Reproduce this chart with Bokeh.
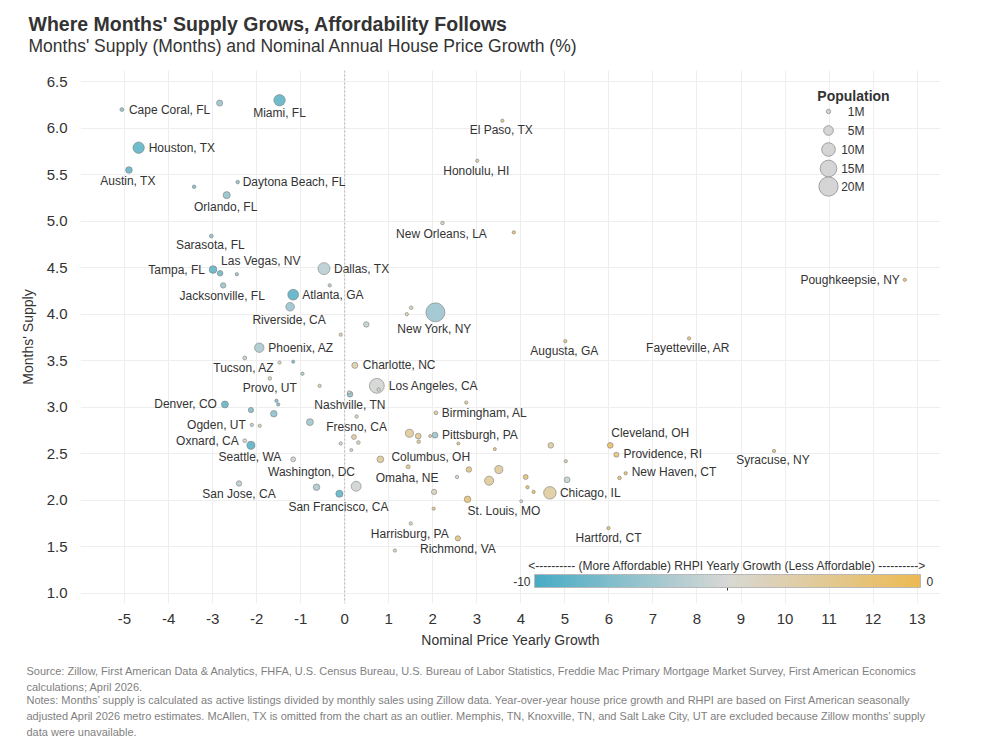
import numpy as np
from bokeh.plotting import figure
from bokeh.models import (ColumnDataSource, Range1d, FixedTicker, PrintfTickFormatter,
                          LinearColorMapper, ColorBar, Span, Title)
from bokeh.transform import transform
from bokeh.core.properties import value, field
from bokeh.embed import file_html
from bokeh.resources import INLINE

FONT = "Liberation Sans"
INK = "#333333"

# ---------------------------------------------------------------- data
metro = [
    "Cape Coral, FL", "", "Miami, FL", "Houston, TX", "Austin, TX", "", "Daytona Beach, FL",
    "Orlando, FL", "Sarasota, FL", "Tampa, FL", "Las Vegas, NV", "", "Dallas, TX",
    "Jacksonville, FL", "Atlanta, GA", "", "Riverside, CA", "", "Phoenix, AZ", "Tucson, AZ",
    "", "", "", "Provo, UT", "", "", "", "", "Nashville, TN", "Denver, CO", "", "", "",
    "Ogden, UT", "", "Oxnard, CA", "Seattle, WA", "", "San Jose, CA", "Washington, DC",
    "San Francisco, CA", "", "Fresno, CA", "", "", "", "", "Columbus, OH", "", "", "",
    "New York, NY", "", "Charlotte, NC", "Los Angeles, CA", "", "Augusta, GA", "",
    "Birmingham, AL", "Pittsburgh, PA", "", "", "", "", "", "", "", "", "Cleveland, OH",
    "Providence, RI", "New Haven, CT", "", "Omaha, NE", "", "", "", "", "", "", "St. Louis, MO",
    "", "", "", "", "", "Chicago, IL", "Hartford, CT", "Harrisburg, PA", "Richmond, VA",
    "Syracuse, NY", "El Paso, TX", "Honolulu, HI", "New Orleans, LA", "", "Poughkeepsie, NY",
    "Fayetteville, AR",
]
price_growth = [
    -5.06, -2.84, -1.48, -4.68, -4.90, -3.42, -2.43,
    -2.68, -3.03, -2.99, -2.83, -2.45, -0.47,
    -2.76, -1.17, -0.34, -1.24, -0.09, -1.94, -2.27,
    -1.48, -1.17, -0.96, -1.70, -0.57, -1.55, -1.51, 0.10, 0.12, -2.72, -2.13, -1.61, -0.79,
    -2.11, -1.93, -2.27, -2.13, -1.17, -2.40, -0.64,
    -0.12, 0.26, 0.27, 0.21, 0.31, -0.09, 0.15, 0.81, 1.14, 1.51, 1.41,
    2.06, 0.49, 0.23, 0.73, 0.77, 5.01, 2.76,
    2.07, 2.05, 1.94, 1.47, 1.67, 1.68, 2.58, 3.41, 4.68, 5.02, 6.03,
    6.17, 6.38, 6.24, 1.44, 2.82, 3.50, 3.28, 2.55, 2.03, 2.02, 2.79,
    4.11, 4.15, 4.29, 4.01, 5.05, 4.66, 5.99, 1.50, 2.57,
    9.75, 3.58, 3.01, 2.22, 3.84, 12.72,
    7.82,
]
months_supply = [
    6.20, 6.27, 6.30, 5.79, 5.55, 5.37, 5.42,
    5.28, 4.84, 4.48, 4.44, 4.43, 4.49,
    4.31, 4.21, 4.31, 4.08, 3.78, 3.64, 3.53,
    3.48, 3.49, 3.36, 3.31, 3.23, 3.07, 3.03, 3.16, 3.14, 3.03, 2.97, 2.93, 2.84,
    2.81, 2.80, 2.64, 2.59, 2.44, 2.18, 2.14,
    2.07, 2.15, 2.90, 2.68, 2.62, 2.61, 2.54, 2.44, 1.46, 4.07, 4.00,
    4.02, 3.89, 3.45, 3.23, 3.19, 3.71, 3.05,
    2.94, 2.70, 2.69, 2.72, 2.69, 2.63, 2.61, 2.55, 2.59, 2.42, 2.59,
    2.49, 2.29, 2.24, 2.36, 2.33, 2.33, 2.21, 2.25, 2.09, 1.91, 2.01,
    2.25, 2.14, 2.09, 1.99, 2.22, 2.08, 1.70, 1.75, 1.59,
    2.53, 6.08, 5.65, 4.98, 4.88, 4.37,
    3.74,
]
population_m = [
    0.8, 2.0, 7.0, 7.0, 2.4, 0.7, 0.7,
    2.7, 0.8, 3.2, 1.7, 0.6, 7.8,
    1.6, 6.3, 0.6, 4.0, 0.6, 4.8, 0.8,
    0.6, 0.5, 0.6, 0.7, 0.6, 0.6, 0.6, 0.6, 1.8, 2.6, 1.5, 2.3, 2.6,
    0.6, 0.6, 0.8, 3.5, 1.3, 1.6, 2.3,
    2.8, 5.3, 0.6, 1.3, 0.7, 0.6, 0.5, 2.4, 0.6, 0.7, 0.6,
    19.5, 1.6, 2.0, 12.0, 0.6, 0.6, 0.6,
    0.8, 1.9, 0.5, 3.5, 1.8, 0.7, 0.5, 0.5, 1.7, 0.6, 1.8,
    1.4, 0.6, 0.7, 0.9, 1.6, 3.5, 4.5, 0.6, 1.5, 0.6, 2.3,
    1.3, 0.6, 0.6, 0.5, 1.8, 8.5, 0.6, 0.6, 1.5,
    0.6, 0.6, 0.6, 0.7, 0.6, 0.6,
    0.6,
]
rhpi_growth = [
    -7.5, -7.0, -9.0, -9.0, -8.8, -8.0, -7.5,
    -7.3, -7.5, -9.0, -8.5, -7.0, -6.0,
    -7.0, -9.2, -6.5, -7.0, -3.5, -6.5, -5.8,
    -4.0, -8.5, -6.5, -4.0, -3.0, -8.0, -8.0, -4.5, -7.5, -8.8, -8.0, -7.5, -6.8,
    -6.0, -4.0, -4.5, -9.2, -5.3, -6.0, -6.5,
    -9.0, -5.3, -4.0, -3.0, -4.0, -4.5, -4.2, -2.8, -4.0, -4.0, -3.5,
    -7.0, -5.6, -3.5, -5.2, -4.0, -1.5, -2.5,
    -2.5, -7.0, -2.8, -2.8, -2.6, -2.6, -1.5, -1.5, -3.0, -3.2, -0.8,
    -1.6, -1.2, -1.0, -1.8, -2.0, -2.8, -2.8, -4.5, -4.2, -2.0, -1.6,
    -1.5, -1.0, -1.0, -4.5, -5.6, -3.0, -1.0, -4.0, -2.0,
    -1.5, -2.0, -3.2, -4.0, -1.0, -1.0,
    -1.0,
]

x_ticks = list(range(-5, 14))
y_ticks = [1.0, 1.5, 2.0, 2.5, 3.0, 3.5, 4.0, 4.5, 5.0, 5.5, 6.0, 6.5]
legend_pops = [1, 5, 10, 15, 20]
legend_labels = ["1M", "5M", "10M", "15M", "20M"]
rhpi_low, rhpi_high = -10, 0

# where each metro name sits relative to its bubble: (align, dx px, dy px)
label_place = {
    "Cape Coral, FL": ("left", 7, 0), "Miami, FL": ("center", 0, 13),
    "Houston, TX": ("left", 10, 0), "Austin, TX": ("center", -1, 11),
    "Daytona Beach, FL": ("left", 5, 0), "Orlando, FL": ("center", -1, 12),
    "Sarasota, FL": ("center", -1, 9), "Tampa, FL": ("right", -8, 0),
    "Las Vegas, NV": ("left", 1, -12), "Dallas, TX": ("left", 10, 0),
    "Jacksonville, FL": ("center", -1, 11), "Atlanta, GA": ("left", 9, 0),
    "Riverside, CA": ("center", -1, 13), "Phoenix, AZ": ("left", 9, 0),
    "Tucson, AZ": ("center", -1, 10), "Provo, UT": ("center", 0, 10),
    "Denver, CO": ("right", -8, 0), "Nashville, TN": ("center", 0, 11),
    "Ogden, UT": ("right", -6, 0), "Fresno, CA": ("center", 0, 10),
    "Oxnard, CA": ("right", -6, 0), "Seattle, WA": ("center", -1, 12),
    "Washington, DC": ("center", -5, -15), "San Jose, CA": ("center", 0, 10),
    "San Francisco, CA": ("center", -1, 13), "Charlotte, NC": ("left", 8, 0),
    "Los Angeles, CA": ("left", 12, 0), "New York, NY": ("center", -1, 17),
    "Augusta, GA": ("center", -1, 10), "Birmingham, AL": ("left", 6, 0),
    "Pittsburgh, PA": ("left", 7, 0), "Columbus, OH": ("left", 11, -2),
    "Omaha, NE": ("center", -1, 11), "St. Louis, MO": ("left", 0, 12),
    "Harrisburg, PA": ("center", -1, 10), "Richmond, VA": ("center", 0, 11),
    "Chicago, IL": ("left", 10, 0), "Hartford, CT": ("center", 0, 10),
    "Cleveland, OH": ("left", 1, -12), "Providence, RI": ("left", 7, -1),
    "New Haven, CT": ("left", 6, -1), "Syracuse, NY": ("center", -1, 9),
    "El Paso, TX": ("center", -1, 9), "Honolulu, HI": ("center", -1, 10),
    "New Orleans, LA": ("center", -1, 11), "Poughkeepsie, NY": ("right", -5, 0),
    "Fayetteville, AR": ("center", -1, 10),
}

# ---------------------------------------------------------------- styling helpers
def bubble(pop):
    return 4.3 * np.sqrt(np.asarray(pop, dtype=float))

def ramp(stops, n=256):
    pos = np.array([s[0] for s in stops], dtype=float)
    rgb = np.array([s[1] for s in stops], dtype=float)
    t = np.linspace(pos[0], pos[-1], n)
    cols = np.stack([np.interp(t, pos, rgb[:, k]) for k in range(3)], axis=1)
    return ["#%02x%02x%02x" % tuple(int(round(c)) for c in row) for row in cols]

palette = ramp([(0.0, (72, 172, 197)), (0.5, (216, 216, 213)), (1.0, (236, 186, 84))])
mapper = LinearColorMapper(palette=palette, low=rhpi_low, high=rhpi_high)

W, H = 983, 748
BL, BR, BT, BB = 80, 43, 70, 145
X0, X1 = -6.0, 13.53
Y0, Y1 = 0.89, 6.62
FW, FH = W - BL - BR, H - BT - BB

def fx(px):  # page pixel -> x data
    return X0 + (px - BL) / FW * (X1 - X0)

def fy(py):  # page pixel -> y data
    return Y1 - (py - BT) / FH * (Y1 - Y0)

def heading(text, size, bold=False, color=INK, standoff=0, left=28, valign="bottom",
            line_height=1.2):
    return Title(text=text, align="left", offset=left - BL, standoff=standoff,
                 vertical_align=valign, text_font=FONT, text_font_size=size,
                 text_font_style="bold" if bold else "normal", text_color=color,
                 text_line_height=line_height)

# ---------------------------------------------------------------- figure
p = figure(width=W, height=H, x_range=Range1d(X0, X1), y_range=Range1d(Y0, Y1),
           output_backend="svg", toolbar_location=None,
           min_border_left=BL, min_border_right=BR, min_border_top=BT, min_border_bottom=BB)
p.outline_line_color = None
p.background_fill_color = "white"
p.xgrid.grid_line_color = "#eeeeee"
p.ygrid.grid_line_color = "#eeeeee"
p.xaxis.ticker = FixedTicker(ticks=x_ticks)
p.yaxis.ticker = FixedTicker(ticks=y_ticks)
p.xaxis.formatter = PrintfTickFormatter(format="%d")
p.yaxis.formatter = PrintfTickFormatter(format="%.1f")
for ax in (p.xaxis, p.yaxis):
    ax.axis_line_color = None
    ax.major_tick_line_color = None
    ax.minor_tick_line_color = None
    ax.major_label_text_font = FONT
    ax.major_label_text_font_size = "15px"
    ax.major_label_text_color = INK
    ax.axis_label_text_font = FONT
    ax.axis_label_text_font_size = "14px"
    ax.axis_label_text_font_style = "normal"
    ax.axis_label_text_color = INK
p.xaxis.axis_label = "Nominal Price Yearly Growth"
p.yaxis.axis_label = "Months' Supply"
p.xaxis.major_label_standoff = 4
p.xaxis.axis_label_standoff = 5
p.yaxis.major_label_standoff = 7
p.yaxis.axis_label_standoff = 8

# title block (subtitle sits nearest the frame)
p.add_layout(heading("Months' Supply (Months) and Nominal Annual House Price Growth (%)",
                     "17.5px", standoff=29), "above")
p.add_layout(heading("Where Months' Supply Grows, Affordability Follows",
                     "19.5px", bold=True, standoff=-30), "above")

p.add_layout(Span(location=0, dimension="height", line_color="#b5b5b5",
                  line_dash="2 2", line_width=1))

# bubbles
size = bubble(population_m)
order = np.argsort(-size, kind="stable")
pts = ColumnDataSource(dict(
    x=[price_growth[i] for i in order],
    y=[months_supply[i] for i in order],
    size=[float(size[i]) for i in order],
    rhpi=[rhpi_growth[i] for i in order],
    name=[metro[i] for i in order],
))
p.scatter("x", "y", size="size", source=pts, fill_color=transform("rhpi", mapper),
          fill_alpha=0.92, line_color="#7d7d7d", line_alpha=0.75, line_width=0.8)

lab = dict(x=[], y=[], text=[], align=[], dx=[], dy=[])
for i, name in enumerate(metro):
    if name in label_place:
        a, dx, dy = label_place[name]
        lab["x"].append(price_growth[i]); lab["y"].append(months_supply[i])
        lab["text"].append(name); lab["align"].append(a)
        lab["dx"].append(dx); lab["dy"].append(dy)
p.text("x", "y", text="text", source=ColumnDataSource(lab), x_offset="dx", y_offset="dy",
       text_align=field("align"), text_baseline="middle", text_font=value(FONT),
       text_font_size="12px", text_color=INK)

# population size legend
leg_y = [111, 130, 149, 168, 186]
p.text(x=[fx(853)], y=[fy(95)], text=["Population"], text_align="center",
       text_baseline="middle", text_font=value(FONT), text_font_size="14px",
       text_font_style="bold", text_color=INK)
p.scatter(x=[fx(828)] * len(legend_pops), y=[fy(v) for v in leg_y],
          size=bubble(legend_pops).tolist(), fill_color="#d5d5d5", line_color="#a0a0a0",
          line_width=1)
p.text(x=[fx(864)] * len(legend_labels), y=[fy(v) for v in leg_y],
       text=legend_labels, text_align="right", text_baseline="middle",
       text_font=value(FONT), text_font_size="12px", text_color=INK)

# RHPI colour scale
cb = ColorBar(color_mapper=mapper, orientation="horizontal", location=(454, 16),
              width=386, height=13, padding=0, ticker=FixedTicker(ticks=[]),
              major_tick_line_color=None, bar_line_color="#b8b8b8",
              background_fill_alpha=0, border_line_color=None)
p.add_layout(cb, "center")
p.segment(x0=[fx(727)], y0=[fy(587)], x1=[fx(727)], y1=[fy(590)], line_color=INK, line_width=1)
p.text(x=[fx(727)], y=[fy(565)],
       text=["<---------- (More Affordable) RHPI Yearly Growth (Less Affordable) ---------->"],
       text_align="center", text_baseline="middle", text_font=value(FONT),
       text_font_size="12px", text_color=INK)
cb_ends = ColumnDataSource(dict(x=[fx(530), fx(926)], y=[fy(581), fy(581)],
                                t=[str(rhpi_low), str(rhpi_high)], a=["right", "left"]))
p.text("x", "y", text="t", source=cb_ends, text_align=field("a"), text_baseline="middle",
       text_font=value(FONT), text_font_size="12px", text_color=INK)

# footnotes, stacked under the x axis
GREY = "#7f7f7f"
source_note = "\n".join([
    "Source: Zillow, First American Data & Analytics, FHFA, U.S. Census Bureau, U.S. Bureau of Labor Statistics, Freddie Mac Primary Mortgage Market Survey, First American Economics",
    "calculations; April 2026.",
])
method_note = "\n".join([
    "Notes: Months\u2019 supply is calculated as active listings divided by monthly sales using Zillow data. Year-over-year house price growth and RHPI are based on First American seasonally",
    "adjusted April 2026 metro estimates. McAllen, TX is omitted from the chart as an outlier. Memphis, TN, Knoxville, TN, and Salt Lake City, UT are excluded because Zillow months\u2019 supply",
    "data were unavailable.",
])
p.add_layout(heading(source_note, "11px", color=GREY, standoff=26, left=26,
                     valign="bottom", line_height=1.36), "below")
p.add_layout(heading(method_note, "11px", color=GREY, standoff=-26, left=26,
                     valign="top", line_height=1.36), "below")

open("out.html", "w").write(file_html(p, INLINE))
